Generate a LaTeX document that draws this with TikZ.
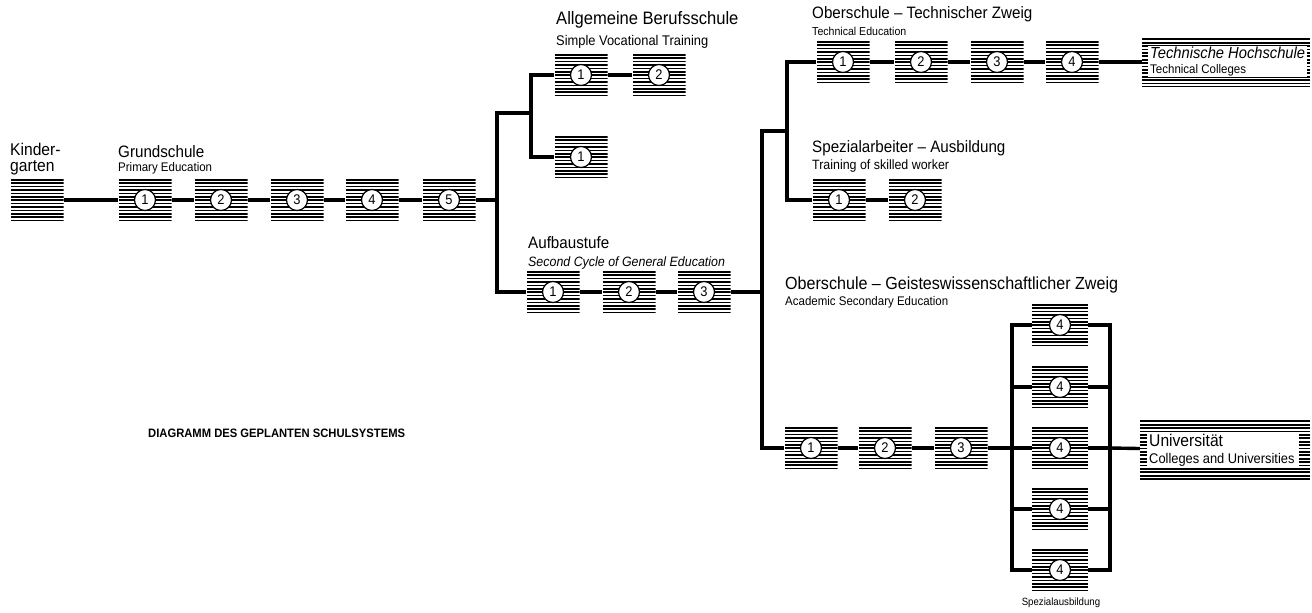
\documentclass[tikz,border=0pt]{standalone}
\usepackage{fontspec}
\setmainfont{Liberation Sans}[FakeStretch=0.92]
\tikzset{
  hatch/.style={fill=white, path picture={
      \foreach \k in {0,...,20}{
        \fill[black] ([yshift=-\k*3.4pt-0.4pt]path picture bounding box.north west) rectangle ([yshift=-\k*3.4pt-2.1pt]path picture bounding box.north east);
      }}},
  stagebox/.style={rectangle, hatch, minimum width=53pt, minimum height=43pt, inner sep=0pt},
  circ/.style={circle, draw, line width=1.2pt, fill=white, minimum size=21pt, inner sep=0pt, font=\fontsize{14}{14}\selectfont},
  conn/.style={line width=3.4pt},
  lab/.style={inner sep=0pt, anchor=west, font=\fontsize{16.5}{16.5}\selectfont},
  sub/.style={inner sep=0pt, anchor=west, font=\fontsize{12.5}{12.5}\selectfont},
  endbox/.style={rectangle, hatch, inner sep=0pt},
  whitebox/.style={fill=white, inner xsep=2pt, inner ysep=1pt, anchor=north west, align=left},
}
\begin{document}
\begin{tikzpicture}[x=1pt,y=-1pt]
\useasboundingbox (0,0) rectangle (1312,613);
% ---- labels
\node[lab, align=left, font=\fontsize{17}{15.5}\selectfont] (lkg) at (10,159) {Kinder-\\garten};
\node[lab] (lgs) at (118,152) {Grundschule};
\node[sub] (lgse) at (118,168) {Primary Education};
\node[lab, font=\fontsize{18}{18}\selectfont] (lab1) at (556,20) {Allgemeine Berufsschule};
\node[sub, font=\fontsize{14}{14}\selectfont] (lab1e) at (556,42) {Simple Vocational Training};
\node[lab] (lau) at (528,243) {Aufbaustufe};
\node[sub, font=\itshape\fontsize{13.5}{13.5}\selectfont] (laue) at (528,263) {Second Cycle of General Education};
\node[lab] (lot) at (812,14) {Oberschule -- Technischer Zweig};
\node[sub, font=\fontsize{11.5}{11.5}\selectfont] (lote) at (812,31) {Technical Education};
\node[lab] (lsp) at (812,148) {Spezialarbeiter -- Ausbildung};
\node[sub, font=\fontsize{13.5}{13.5}\selectfont] (lspe) at (812,166) {Training of skilled worker};
\node[lab, font=\fontsize{17.5}{17.5}\selectfont] (log) at (785,285) {Oberschule -- Geisteswissenschaftlicher Zweig};
\node[sub] (loge) at (785,302) {Academic Secondary Education};
\node[inner sep=0pt, anchor=west, font=\bfseries\fontsize{12.2}{12.2}\selectfont] (ldia) at (148,433) {DIAGRAMM DES GEPLANTEN SCHULSYSTEMS};
\node[inner sep=0pt, font=\fontsize{10.5}{10.5}\selectfont] (lsa) at (1061,603) {Spezialausbildung};
% ---- boxes
\node[stagebox] (k) at (37,200) {};
\foreach \n/\x in {1/145,2/221,3/297,4/372,5/449}{
  \node[stagebox] (g\n) at (\x,200) {};
  \node[circ] (g\n c) at (g\n) {\n};
}
\node[stagebox] (b1) at (581,75) {}; \node[circ] (b1c) at (b1) {1};
\node[stagebox] (b2) at (659,75) {}; \node[circ] (b2c) at (b2) {2};
\node[stagebox] (c1) at (581,157) {}; \node[circ] (c1c) at (c1) {1};
\foreach \n/\x in {1/553,2/629,3/704}{
  \node[stagebox] (a\n) at (\x,292) {};
  \node[circ] (a\n c) at (a\n) {\n};
}
\foreach \n/\x in {1/843,2/921,3/997,4/1072}{
  \node[stagebox] (t\n) at (\x,62) {};
  \node[circ] (t\n c) at (t\n) {\n};
}
\node[stagebox] (s1) at (839,200) {}; \node[circ] (s1c) at (s1) {1};
\node[stagebox] (s2) at (915,200) {}; \node[circ] (s2c) at (s2) {2};
\foreach \n/\x in {1/811,2/885,3/961}{
  \node[stagebox] (o\n) at (\x,448) {};
  \node[circ] (o\n c) at (o\n) {\n};
}
\foreach \n/\y in {1/325,2/387,3/448,4/509,5/570}{
  \node[stagebox, minimum width=56pt] (q\n) at (1060,\y) {};
  \node[circ] (q\n c) at (q\n) {4};
}
% end boxes
\node[endbox, minimum width=168pt, minimum height=48pt] (th) at (1226,62) {};
\node[whitebox, font=\fontsize{12.5}{15}\selectfont] (tht) at (1148,46) {{\itshape\fontsize{16}{16}\selectfont Technische Hochschule}\\Technical Colleges};
\node[endbox, minimum width=170pt, minimum height=60pt] (uni) at (1225,450) {};
\node[whitebox, font=\fontsize{14}{17}\selectfont] (unit) at (1147,433) {{\fontsize{17}{17}\selectfont Universität}\\Colleges and Universities\,};
% ---- junctions
\coordinate (j1) at (497,200);
\coordinate (j2) at (531,113);
\coordinate (j3) at (762,292);
\coordinate (j4) at (787,131);
\coordinate (j5) at (1012,448);
\coordinate (j6) at (1110,448);
% ---- connectors
\draw[conn] (k) -- (g1);
\draw[conn] (g1) -- (g2);
\draw[conn] (g2) -- (g3);
\draw[conn] (g3) -- (g4);
\draw[conn] (g4) -- (g5);
\draw[conn] (g5.east) -- (j1);
\draw[conn] (j1) |- (j2);
\draw[conn] (j1) |- (a1.west);
\draw[conn] (j2) |- (b1.west);
\draw[conn] (j2) |- (c1.west);
\draw[conn] (b1) -- (b2);
\draw[conn] (a1) -- (a2);
\draw[conn] (a2) -- (a3);
\draw[conn] (a3.east) -- (j3);
\draw[conn] (j3) |- (j4);
\draw[conn] (j3) |- (o1.west);
\draw[conn] (j4) |- (t1.west);
\draw[conn] (j4) |- (s1.west);
\draw[conn] (t1) -- (t2);
\draw[conn] (t2) -- (t3);
\draw[conn] (t3) -- (t4);
\draw[conn] (t4) -- (th);
\draw[conn] (s1) -- (s2);
\draw[conn] (o1) -- (o2);
\draw[conn] (o2) -- (o3);
\draw[conn] (o3.east) -- (j5);
\foreach \n in {1,...,5}{
  \draw[conn] (j5) |- (q\n.west);
  \draw[conn] (q\n.east) -| (j6);
}
\draw[conn] (j6) -- (uni);
\end{tikzpicture}
\end{document}
